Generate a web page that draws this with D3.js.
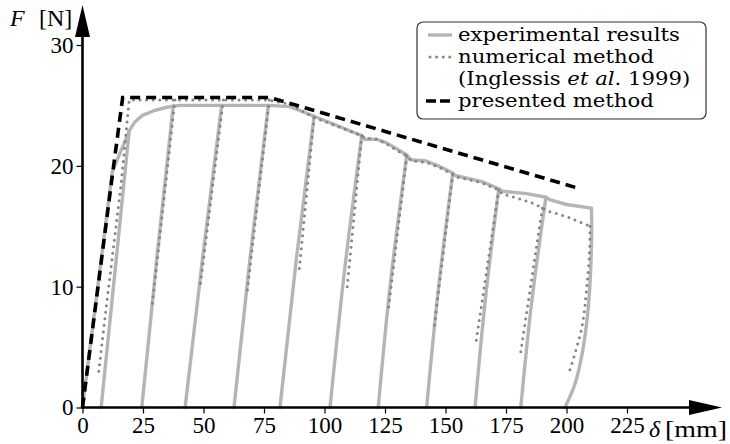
<!DOCTYPE html>
<html><head><meta charset="utf-8">
<script src="https://cdn.jsdelivr.net/npm/d3@7"></script>
<style>body{margin:0;background:#fff} svg text{font-family:"Liberation Serif","DejaVu Serif",serif;fill:#000}</style>
</head><body><svg id="c" width="730" height="444"></svg>
<script>
// ---------- data ----------
const xTicks = [0, 25, 50, 75, 100, 125, 150, 175, 200, 225];
const yTicks = [0, 10, 20, 30];
const legendLabels = ["experimental results", "numerical method", "presented method"];

// experimental envelope (loading path)
const expEnvelope = [[0,0],[12.3,19.5],[19.3,22.9],[21.5,23.6],[25,24.2],[30,24.6],[35,24.85],[40,25.0],
  [76.8,25.0],[85.7,24.9],[95.7,24.1],[115.4,22.5],[116.5,22.2],[121.6,22.2],[125.7,21.9],[134,20.9],
  [135.5,20.5],[142,20.4],[147,20.0],[153,19.4],[154,19.2],[165,18.7],[172,18.1],[173.5,17.9],
  [183.5,17.7],[191.5,17.4],[193,17.2],[200,16.8],[210.3,16.5]];
const expFinal = [[210.3,16.5],[210.4,14.5],[209.8,10.6],[208.6,7.5],[206.6,4.6],[203.6,2.0],[199.4,0]];
// experimental unloading lines: top, middle, bottom
const expCycles = [
  [[19.3,22.9],[13.5,11.4],[7.7,0]],
  [[37.5,25.0],[30.8,12.5],[24.5,0]],
  [[57.5,25.0],[49.7,12.5],[42.4,0]],
  [[76.8,25.0],[69.3,12.5],[62.6,0]],
  [[95.7,24.1],[88.2,12.0],[81.6,0]],
  [[115.4,22.5],[108.2,11.2],[102.3,0]],
  [[134,20.9],[127.3,10.4],[122.2,0]],
  [[153,19.4],[147.0,9.7],[142.2,0]],
  [[172,18.1],[166.5,9.0],[162.2,0]],
  [[191.5,17.4],[185.6,8.7],[181.1,0]]
];

// numerical method envelope
const numEnvelope = [[6.7,3.0],[10.4,9.3],[15.9,18.4],[19.3,25.45],[76.8,25.45],[85.7,25.1],[95.7,24.0],
  [115.4,22.5],[116.5,22.3],[121.6,22.2],[125.7,21.8],[134,20.8],[136,20.4],[142,20.3],[147,19.9],
  [153,19.3],[154,19.1],[165,18.6],[172,18.0],[173.2,17.7],[180.1,17.3],[187,16.85],[190,16.5],
  [193.2,16.2],[200.1,15.8],[209.7,15.0]];
const numFinal = [[209.7,15.0],[209.5,12.8],[208.3,9.8],[206.3,6.6],[201.4,3.1]];
const numCycles = [
  [[38.2,25.45],[28.6,8.1]],
  [[58.2,25.45],[48.6,10.0]],
  [[77.2,25.45],[68.0,9.5]],
  [[95.7,24.0],[89.4,11.1]],
  [[115.4,22.5],[109.2,9.6]],
  [[134,20.8],[126.4,8.1]],
  [[153,19.3],[145.4,6.8]],
  [[172,18.0],[162.6,5.4]],
  [[190,16.5],[180.8,4.2]]
];

// presented method
const presented = [[0,0],[11.8,18.4],[16.6,25.65],[77.5,25.65],[205.6,18.1]];

// ---------- drawing ----------
const svg = d3.select("#c");
const x = d3.scaleLinear().domain([0,225]).range([82.5,627]);
const y = d3.scaleLinear().domain([0,30]).range([407.5,45]);
const line = d3.line().x(d=>x(d[0])).y(d=>y(d[1]));
const smooth = d3.line().x(d=>x(d[0])).y(d=>y(d[1])).curve(d3.curveCatmullRom);
const FS = 23;

const gExp = svg.append("g").attr("fill","none").attr("stroke","#b5b5b5")
  .attr("stroke-width",3.4).attr("stroke-linejoin","round").attr("stroke-linecap","round");
gExp.append("path").attr("d", line(expEnvelope));
gExp.append("path").attr("d", smooth(expFinal));
expCycles.forEach(c => gExp.append("path").attr("d", d3.line().x(d=>x(d[0])).y(d=>y(d[1])).curve(d3.curveMonotoneY)(c)));

const gNum = svg.append("g").attr("fill","none").attr("stroke","#858585")
  .attr("stroke-width",3).attr("stroke-linecap","round").attr("stroke-dasharray","0 6.6");
gNum.append("path").attr("d", line(numEnvelope));
gNum.append("path").attr("d", smooth(numFinal));
numCycles.forEach(c => gNum.append("path").attr("d", line(c)));

svg.append("path").attr("d", line(presented)).attr("fill","none").attr("stroke","#000")
  .attr("stroke-width",3.6).attr("stroke-dasharray","10 6");

// axes
const xAxis = d3.axisBottom(x).tickValues(xTicks).tickSize(6).tickPadding(3);
const gx = svg.append("g").attr("transform",`translate(0,${y(0)})`).call(xAxis);
gx.attr("font-family",null).attr("font-size",null);
gx.select(".domain").remove();
gx.selectAll(".tick line").attr("stroke","#000").attr("stroke-width",1.2);
gx.selectAll(".tick text").style("font-size",FS+"px");

const yAxis = d3.axisLeft(y).tickValues(yTicks).tickSize(6).tickPadding(3);
const gy = svg.append("g").attr("transform",`translate(${x(0)},0)`).call(yAxis);
gy.attr("font-family",null).attr("font-size",null);
gy.select(".domain").remove();
gy.selectAll(".tick line").attr("stroke","#000").attr("stroke-width",1.2);
gy.selectAll(".tick text").style("font-size",FS+"px");

// axis lines with arrows
svg.append("line").attr("x1",x(0)).attr("x2",700).attr("y1",y(0)).attr("y2",y(0))
  .attr("stroke","#000").attr("stroke-width",2.6);
svg.append("path").attr("d",`M722,${y(0)} L689,${y(0)-7.5} L689,${y(0)+7.5} Z`).attr("fill","#000");
svg.append("line").attr("x1",x(0)).attr("x2",x(0)).attr("y1",y(0)+1).attr("y2",30)
  .attr("stroke","#000").attr("stroke-width",2.6);
svg.append("path").attr("d",`M${x(0)},5 L${x(0)-7.5},37 L${x(0)+7.5},37 Z`).attr("fill","#000");

// axis titles
svg.append("text").attr("x",10).attr("y",26).style("font-size","24px").attr("font-style","italic").text("F");
svg.append("text").attr("x",39).attr("y",26).style("font-size","24px").text("[N]");
svg.append("text").attr("x",649).attr("y",437).style("font-size","24px").attr("font-style","italic").text("δ");
svg.append("text").attr("x",665).attr("y",437).style("font-size","24px")
  .attr("textLength",62).attr("lengthAdjust","spacingAndGlyphs").text("[mm]");

// legend
const lg = svg.append("g");
lg.append("rect").attr("x",417).attr("y",22).attr("width",289).attr("height",97).attr("rx",6)
  .attr("fill","#fff").attr("stroke","#333").attr("stroke-width",1.2);
const lx1 = 428, lx2 = 452;
lg.append("line").attr("x1",lx1).attr("x2",lx2).attr("y1",35).attr("y2",35)
  .attr("stroke","#b5b5b5").attr("stroke-width",3.4);
lg.append("line").attr("x1",lx1+2).attr("x2",lx2).attr("y1",57).attr("y2",57)
  .attr("stroke","#858585").attr("stroke-width",3).attr("stroke-linecap","round").attr("stroke-dasharray","0 6.6");
lg.append("line").attr("x1",lx1-2).attr("x2",lx2).attr("y1",101).attr("y2",101)
  .attr("stroke","#000").attr("stroke-width",3.6).attr("stroke-dasharray","10 4");
const lgt = lg.append("g").attr("transform","translate(458,0) scale(1.14,1)");
const lt = (yy) => lgt.append("text").attr("x",0).attr("y",yy)
  .style("font-family","'DejaVu Serif', serif").style("font-size","18.6px");
lt(41).text(legendLabels[0]);
lt(63).text(legendLabels[1]);
const t3 = lt(85);
t3.append("tspan").text("(Inglessis ");
t3.append("tspan").attr("font-style","italic").text("et al");
t3.append("tspan").text(". 1999)");
lt(107).text(legendLabels[2]);
</script></body></html>
